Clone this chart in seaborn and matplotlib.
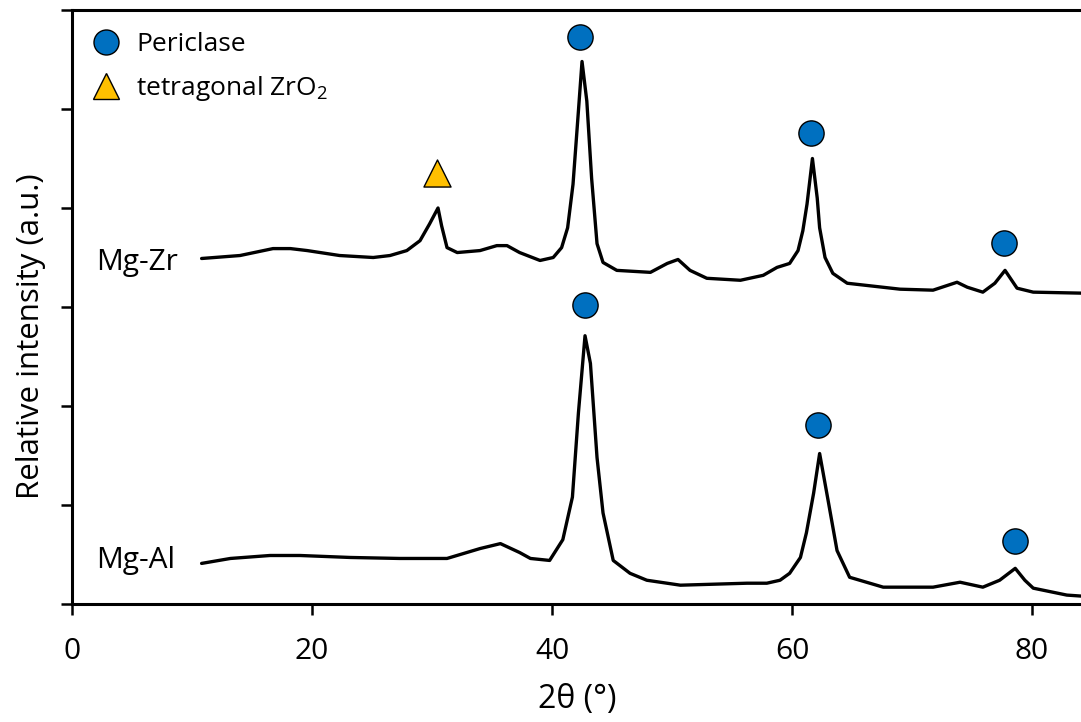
import matplotlib
matplotlib.use("Agg")
import matplotlib.pyplot as plt
from matplotlib.lines import Line2D
import seaborn as sns
import pandas as pd

# ---- data ----
zr_two_theta = [10.8, 14.0, 16.75, 18.2, 19.6, 22.3, 25.1, 26.5, 27.9, 29.0, 29.8, 30.5, 30.8,
                31.25, 32.1, 34.0, 35.4, 36.25, 37.3, 39.0, 40.1, 40.8, 41.3, 41.75, 42.2, 42.5,
                42.9, 43.3, 43.75, 44.25, 45.4, 48.2, 49.6, 50.5, 51.5, 52.9, 55.7, 57.6, 58.75,
                59.8, 60.5, 60.9, 61.25, 61.7, 62.1, 62.3, 62.75, 63.4, 64.6, 69.0, 71.75, 73.75,
                74.6, 75.9, 76.9, 77.75, 78.75, 80.1, 84.1]
zr_intensity = [3.49, 3.52, 3.59, 3.59, 3.57, 3.52, 3.50, 3.52, 3.57, 3.67, 3.84, 4.00, 3.82,
                3.60, 3.55, 3.57, 3.62, 3.62, 3.55, 3.47, 3.50, 3.60, 3.80, 4.24, 4.98, 5.48,
                5.08, 4.30, 3.64, 3.45, 3.37, 3.35, 3.44, 3.48, 3.37, 3.29, 3.27, 3.32, 3.40,
                3.44, 3.57, 3.77, 4.04, 4.50, 4.10, 3.80, 3.50, 3.34, 3.24, 3.18, 3.17, 3.25,
                3.20, 3.15, 3.24, 3.37, 3.19, 3.15, 3.14]

al_two_theta = [10.8, 13.2, 16.5, 19.0, 23.2, 27.3, 31.25, 34.0, 35.7, 37.3, 38.2, 39.8, 40.9,
                41.7, 42.2, 42.75, 43.2, 43.75, 44.25, 45.1, 46.5, 47.9, 50.7, 56.25, 57.9, 59.0,
                59.8, 60.7, 61.2, 61.8, 62.3, 63.0, 63.75, 64.8, 67.6, 71.75, 74.0, 75.9, 77.3,
                78.6, 79.4, 80.1, 82.9, 84.1]
al_intensity = [0.41, 0.46, 0.49, 0.49, 0.47, 0.46, 0.46, 0.56, 0.61, 0.52, 0.46, 0.44, 0.65,
                1.08, 1.93, 2.71, 2.43, 1.48, 0.92, 0.44, 0.31, 0.24, 0.19, 0.21, 0.21, 0.24,
                0.31, 0.47, 0.72, 1.12, 1.52, 1.05, 0.54, 0.27, 0.17, 0.17, 0.22, 0.17, 0.24,
                0.36, 0.24, 0.16, 0.09, 0.08]

sample_labels = ["Mg-Zr", "Mg-Al"]
sample_label_y = [3.45, 0.44]

periclase_x = [42.33, 61.6, 77.7, 42.75, 62.2, 78.6]
periclase_y = [5.73, 4.76, 3.65, 3.02, 1.81, 0.635]
zro2_x = [30.4]
zro2_y = [4.35]

legend_labels = ["Periclase", "tetragonal ZrO$_\\mathregular{2}$"]
x_ticks = [0, 20, 40, 60, 80]
y_ticks = [0, 1, 2, 3, 4, 5, 6]

# ---- styling ----
sns.set_style("ticks")
plt.rcParams["font.family"] = ["Open Sans", "DejaVu Sans"]
plt.rcParams["mathtext.fontset"] = "custom"
plt.rcParams["mathtext.rm"] = "Open Sans"
for key in ["text.color", "axes.labelcolor", "xtick.color", "ytick.color", "axes.edgecolor"]:
    plt.rcParams[key] = "black"

BLUE = "#0070C0"
GOLD = "#FFC000"

fig = plt.figure(figsize=(10.81, 7.22), dpi=100)
ax = fig.add_axes([72 / 1081, 118 / 722, 1 - 72 / 1081, 594 / 722])

df = pd.concat([
    pd.DataFrame({"two_theta": zr_two_theta, "intensity": zr_intensity, "sample": "Mg-Zr"}),
    pd.DataFrame({"two_theta": al_two_theta, "intensity": al_intensity, "sample": "Mg-Al"}),
])
sns.lineplot(data=df, x="two_theta", y="intensity", units="sample", estimator=None,
             sort=False, color="black", lw=2.4, ax=ax, legend=False)

sns.scatterplot(x=periclase_x, y=periclase_y, ax=ax, marker="o", s=330, color=BLUE,
                edgecolor="black", linewidth=1.0, zorder=5, legend=False)
sns.scatterplot(x=zro2_x, y=zro2_y, ax=ax, marker="^", s=380, color=GOLD,
                edgecolor="black", linewidth=1.0, zorder=5, legend=False)

for lab, yy in zip(sample_labels, sample_label_y):
    ax.text(2.05, yy, lab, fontsize=21.5, va="center", ha="left")

ax.set_xlim(0, 84.08)
ax.set_ylim(0, 6)
ax.set_xticks(x_ticks)
ax.set_yticks(y_ticks)
ax.set_yticklabels([])
ax.tick_params(axis="both", direction="out", length=8, width=1.8, labelsize=21.5, pad=16)
for side in ["left", "bottom", "top"]:
    ax.spines[side].set_linewidth(2.2)
ax.spines["right"].set_visible(False)

ax.set_xlabel("2θ (°)", fontsize=23)
ax.xaxis.set_label_coords((577 - 72) / 1009, (604 - 716) / 594)
ax.xaxis.label.set_va("bottom")
ax.set_ylabel("Relative intensity (a.u.)", fontsize=22.5)
ax.yaxis.set_label_coords((46 - 72) / 1009, (604 - 336) / 594)

handles = [
    Line2D([], [], ls="none", marker="o", markersize=18, markerfacecolor=BLUE,
           markeredgecolor="black", markeredgewidth=1.0),
    Line2D([], [], ls="none", marker="^", markersize=19, markerfacecolor=GOLD,
           markeredgecolor="black", markeredgewidth=1.0),
]
ax.legend(handles, legend_labels, loc="upper left", bbox_to_anchor=(-0.008, 1.0),
          frameon=False, fontsize=19, handletextpad=0.4, labelspacing=0.62,
          borderaxespad=0.45, handlelength=1.5)

fig.savefig("out.png", dpi=100)
